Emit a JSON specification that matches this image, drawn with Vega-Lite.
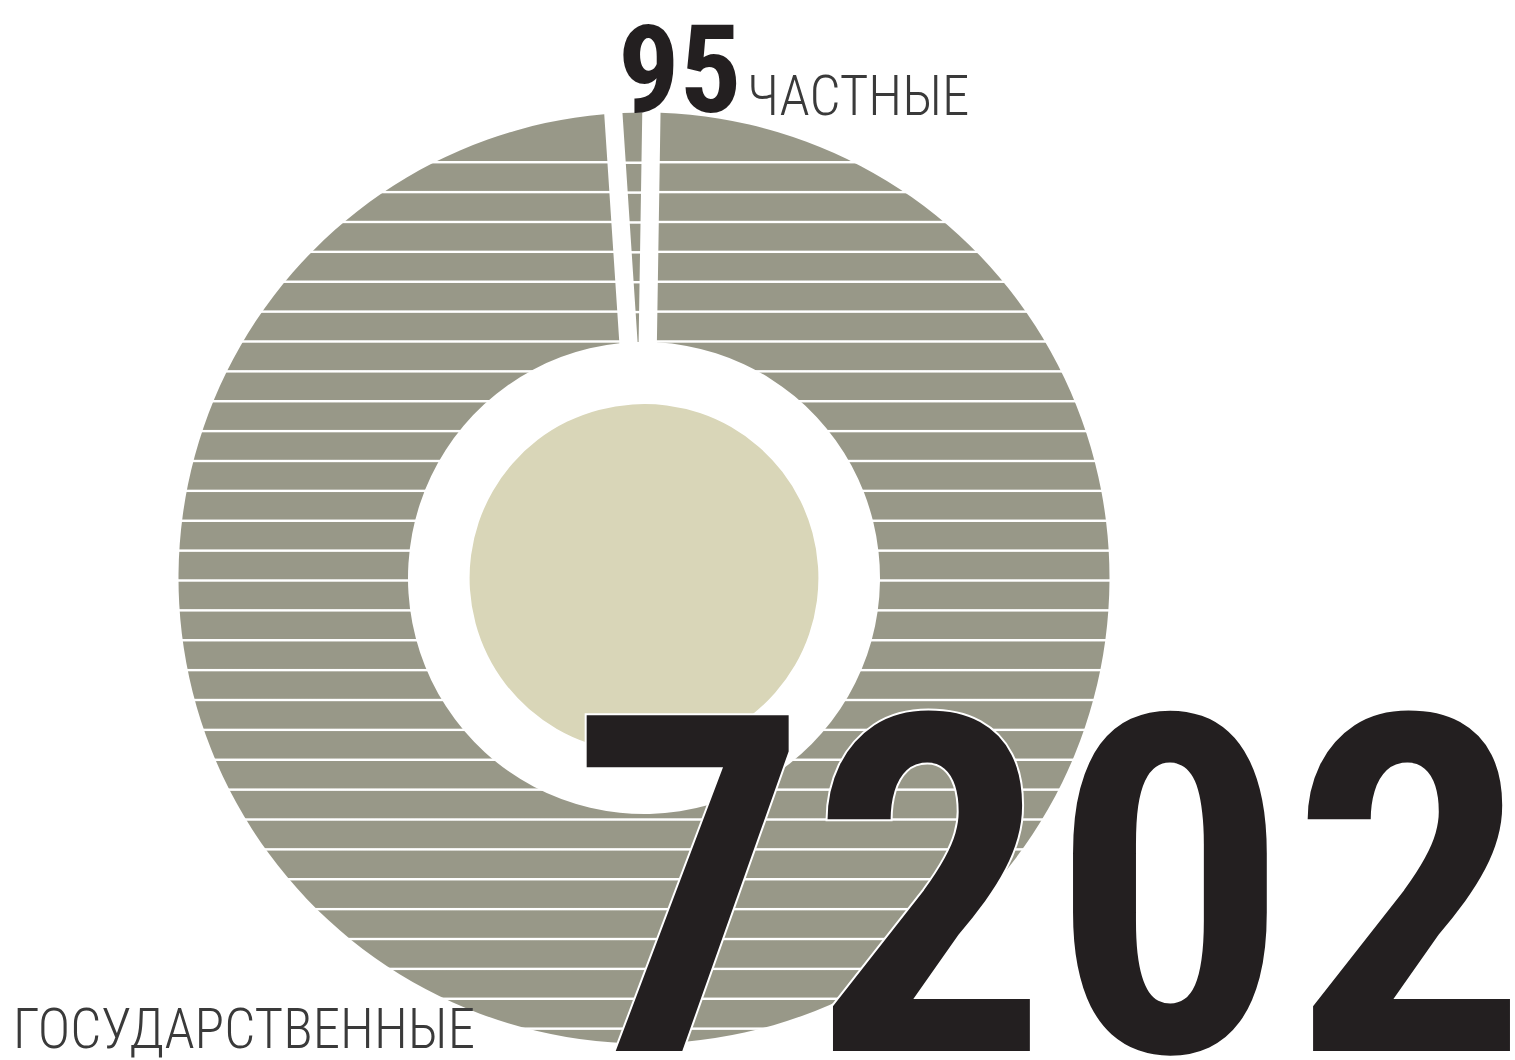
{
  "$schema": "https://vega.github.io/schema/vega-lite/v6.json",
  "width": 1288,
  "height": 964,
  "autosize": "none",
  "padding": {"left": 0, "top": 96, "right": 227, "bottom": 0},
  "background": "white",
  "view": {"stroke": null},
  "data": {"values": [
    {"sector": "ЧАСТНЫЕ", "value": 95},
    {"sector": "ГОСУДАРСТВЕННЫЕ", "value": 7202}
  ]},
  "layer": [
    {
      "mark": {"type": "arc", "outerRadius": 465.5, "innerRadius": 236, "padAngle": 0.035},
      "encoding": {
        "theta": {"field": "value", "type": "quantitative", "stack": true, "scale": {"range": [-0.0659, 6.2173]}},
        "order": {"field": "value", "type": "quantitative", "sort": "ascending"},
        "fill": {
          "condition": {"test": "datum.value < 1000", "value": {
            "gradient": "linear", "x1": 0, "y1": 0, "x2": 0, "y2": 1,
            "stops": [
              {"offset": 0, "color": "#989888"},
              {"offset": 0.21134, "color": "#989888"}, {"offset": 0.21544, "color": "#ffffff"}, {"offset": 0.22204, "color": "#ffffff"}, {"offset": 0.22614, "color": "#989888"},
              {"offset": 0.34144, "color": "#989888"}, {"offset": 0.34554, "color": "#ffffff"}, {"offset": 0.35214, "color": "#ffffff"}, {"offset": 0.35624, "color": "#989888"},
              {"offset": 0.47155, "color": "#989888"}, {"offset": 0.47565, "color": "#ffffff"}, {"offset": 0.48225, "color": "#ffffff"}, {"offset": 0.48635, "color": "#989888"},
              {"offset": 0.60166, "color": "#989888"}, {"offset": 0.60576, "color": "#ffffff"}, {"offset": 0.61236, "color": "#ffffff"}, {"offset": 0.61646, "color": "#989888"},
              {"offset": 0.73177, "color": "#989888"}, {"offset": 0.73587, "color": "#ffffff"}, {"offset": 0.74247, "color": "#ffffff"}, {"offset": 0.74657, "color": "#989888"},
              {"offset": 0.86188, "color": "#989888"}, {"offset": 0.86598, "color": "#ffffff"}, {"offset": 0.87258, "color": "#ffffff"}, {"offset": 0.87668, "color": "#989888"},
              {"offset": 1, "color": "#989888"}
            ]
          }},
          "value": {
            "gradient": "linear", "x1": 0, "y1": 0, "x2": 0, "y2": 1,
            "stops": [
              {"offset": 0, "color": "#989888"},
              {"offset": 0.05131, "color": "#989888"}, {"offset": 0.05231, "color": "#ffffff"}, {"offset": 0.05391, "color": "#ffffff"}, {"offset": 0.05491, "color": "#989888"},
              {"offset": 0.08341, "color": "#989888"}, {"offset": 0.08441, "color": "#ffffff"}, {"offset": 0.08601, "color": "#ffffff"}, {"offset": 0.08701, "color": "#989888"},
              {"offset": 0.11551, "color": "#989888"}, {"offset": 0.11651, "color": "#ffffff"}, {"offset": 0.11811, "color": "#ffffff"}, {"offset": 0.11911, "color": "#989888"},
              {"offset": 0.14761, "color": "#989888"}, {"offset": 0.14861, "color": "#ffffff"}, {"offset": 0.15021, "color": "#ffffff"}, {"offset": 0.15121, "color": "#989888"},
              {"offset": 0.17971, "color": "#989888"}, {"offset": 0.18071, "color": "#ffffff"}, {"offset": 0.18231, "color": "#ffffff"}, {"offset": 0.18331, "color": "#989888"},
              {"offset": 0.21182, "color": "#989888"}, {"offset": 0.21282, "color": "#ffffff"}, {"offset": 0.21442, "color": "#ffffff"}, {"offset": 0.21542, "color": "#989888"},
              {"offset": 0.24392, "color": "#989888"}, {"offset": 0.24492, "color": "#ffffff"}, {"offset": 0.24652, "color": "#ffffff"}, {"offset": 0.24752, "color": "#989888"},
              {"offset": 0.27602, "color": "#989888"}, {"offset": 0.27702, "color": "#ffffff"}, {"offset": 0.27862, "color": "#ffffff"}, {"offset": 0.27962, "color": "#989888"},
              {"offset": 0.30812, "color": "#989888"}, {"offset": 0.30912, "color": "#ffffff"}, {"offset": 0.31072, "color": "#ffffff"}, {"offset": 0.31172, "color": "#989888"},
              {"offset": 0.34022, "color": "#989888"}, {"offset": 0.34122, "color": "#ffffff"}, {"offset": 0.34282, "color": "#ffffff"}, {"offset": 0.34382, "color": "#989888"},
              {"offset": 0.37232, "color": "#989888"}, {"offset": 0.37332, "color": "#ffffff"}, {"offset": 0.37492, "color": "#ffffff"}, {"offset": 0.37592, "color": "#989888"},
              {"offset": 0.40442, "color": "#989888"}, {"offset": 0.40542, "color": "#ffffff"}, {"offset": 0.40702, "color": "#ffffff"}, {"offset": 0.40802, "color": "#989888"},
              {"offset": 0.43652, "color": "#989888"}, {"offset": 0.43752, "color": "#ffffff"}, {"offset": 0.43912, "color": "#ffffff"}, {"offset": 0.44012, "color": "#989888"},
              {"offset": 0.46862, "color": "#989888"}, {"offset": 0.46962, "color": "#ffffff"}, {"offset": 0.47122, "color": "#ffffff"}, {"offset": 0.47222, "color": "#989888"},
              {"offset": 0.50072, "color": "#989888"}, {"offset": 0.50172, "color": "#ffffff"}, {"offset": 0.50332, "color": "#ffffff"}, {"offset": 0.50432, "color": "#989888"},
              {"offset": 0.53282, "color": "#989888"}, {"offset": 0.53382, "color": "#ffffff"}, {"offset": 0.53542, "color": "#ffffff"}, {"offset": 0.53642, "color": "#989888"},
              {"offset": 0.56493, "color": "#989888"}, {"offset": 0.56593, "color": "#ffffff"}, {"offset": 0.56753, "color": "#ffffff"}, {"offset": 0.56853, "color": "#989888"},
              {"offset": 0.59703, "color": "#989888"}, {"offset": 0.59803, "color": "#ffffff"}, {"offset": 0.59963, "color": "#ffffff"}, {"offset": 0.60063, "color": "#989888"},
              {"offset": 0.62913, "color": "#989888"}, {"offset": 0.63013, "color": "#ffffff"}, {"offset": 0.63173, "color": "#ffffff"}, {"offset": 0.63273, "color": "#989888"},
              {"offset": 0.66123, "color": "#989888"}, {"offset": 0.66223, "color": "#ffffff"}, {"offset": 0.66383, "color": "#ffffff"}, {"offset": 0.66483, "color": "#989888"},
              {"offset": 0.69333, "color": "#989888"}, {"offset": 0.69433, "color": "#ffffff"}, {"offset": 0.69593, "color": "#ffffff"}, {"offset": 0.69693, "color": "#989888"},
              {"offset": 0.72543, "color": "#989888"}, {"offset": 0.72643, "color": "#ffffff"}, {"offset": 0.72803, "color": "#ffffff"}, {"offset": 0.72903, "color": "#989888"},
              {"offset": 0.75753, "color": "#989888"}, {"offset": 0.75853, "color": "#ffffff"}, {"offset": 0.76013, "color": "#ffffff"}, {"offset": 0.76113, "color": "#989888"},
              {"offset": 0.78963, "color": "#989888"}, {"offset": 0.79063, "color": "#ffffff"}, {"offset": 0.79223, "color": "#ffffff"}, {"offset": 0.79323, "color": "#989888"},
              {"offset": 0.82173, "color": "#989888"}, {"offset": 0.82273, "color": "#ffffff"}, {"offset": 0.82433, "color": "#ffffff"}, {"offset": 0.82533, "color": "#989888"},
              {"offset": 0.85383, "color": "#989888"}, {"offset": 0.85483, "color": "#ffffff"}, {"offset": 0.85643, "color": "#ffffff"}, {"offset": 0.85743, "color": "#989888"},
              {"offset": 0.88594, "color": "#989888"}, {"offset": 0.88694, "color": "#ffffff"}, {"offset": 0.88854, "color": "#ffffff"}, {"offset": 0.88954, "color": "#989888"},
              {"offset": 0.91804, "color": "#989888"}, {"offset": 0.91904, "color": "#ffffff"}, {"offset": 0.92064, "color": "#ffffff"}, {"offset": 0.92164, "color": "#989888"},
              {"offset": 0.95014, "color": "#989888"}, {"offset": 0.95114, "color": "#ffffff"}, {"offset": 0.95274, "color": "#ffffff"}, {"offset": 0.95374, "color": "#989888"},
              {"offset": 0.98224, "color": "#989888"}, {"offset": 0.98324, "color": "#ffffff"}, {"offset": 0.98484, "color": "#ffffff"}, {"offset": 0.98584, "color": "#989888"},
              {"offset": 1, "color": "#989888"}
            ]
          }
        }
      }
    },
    {
      "transform": [{"aggregate": [{"op": "sum", "field": "value", "as": "total"}]}],
      "mark": {"type": "arc", "outerRadius": 174, "fill": "#d9d6b8"},
      "encoding": {
        "theta": {"field": "total", "type": "quantitative", "scale": {"range": [-0.0659, 6.2173]}}
      }
    },
    {
      "transform": [{"filter": "datum.value < 1000"}],
      "mark": {"type": "text", "font": "Roboto Condensed, Liberation Sans, sans-serif", "fontWeight": "bold", "fontSize": 122, "align": "left", "baseline": "alphabetic", "dx": -26, "dy": -466, "fill": "#231f20"},
      "encoding": {"text": {"field": "value", "type": "quantitative", "format": "d"}}
    },
    {
      "transform": [{"filter": "datum.value < 1000"}],
      "mark": {"type": "text", "font": "Roboto Condensed, Liberation Sans, sans-serif", "fontWeight": 300, "fontSize": 55, "align": "left", "baseline": "alphabetic", "dx": 103, "dy": -463, "fill": "#3a3a3a"},
      "encoding": {"text": {"field": "sector", "type": "nominal"}}
    },
    {
      "transform": [{"filter": "datum.value > 1000"}],
      "mark": {"type": "text", "font": "Roboto Condensed, Liberation Sans, sans-serif", "fontWeight": 300, "fontSize": 55, "align": "left", "baseline": "alphabetic", "dx": -631, "dy": 470, "fill": "#3a3a3a"},
      "encoding": {"text": {"field": "sector", "type": "nominal"}}
    },
    {
      "transform": [{"filter": "datum.value > 1000"}],
      "mark": {"type": "text", "font": "Roboto Condensed, Liberation Sans, sans-serif", "fontWeight": "bold", "fontSize": 475, "align": "right", "baseline": "alphabetic", "dx": 886, "dy": 474, "fill": "#231f20", "stroke": "#ffffff", "strokeWidth": 2},
      "encoding": {"text": {"field": "value", "type": "quantitative", "format": "d"}}
    }
  ]
}
